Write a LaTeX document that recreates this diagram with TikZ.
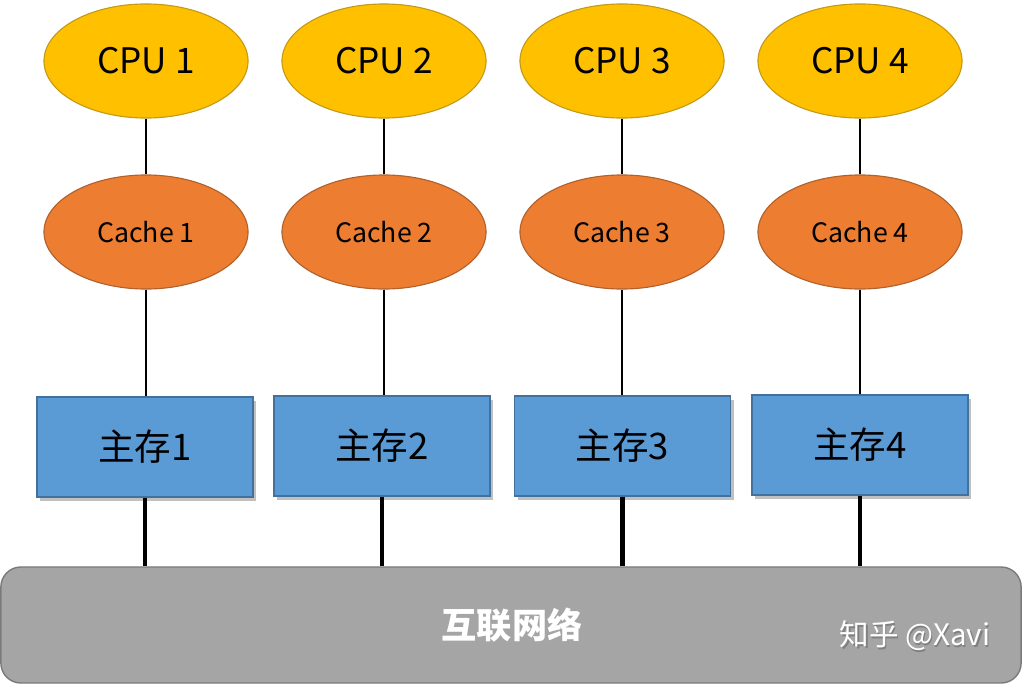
\documentclass[tikz,border=0pt]{standalone}
\usepackage{fontspec}
\setmainfont{Noto Sans CJK SC}
\usetikzlibrary{shapes.geometric,shadows}
\definecolor{cpufill}{HTML}{FFC000}
\definecolor{cpuedge}{HTML}{C49A16}
\definecolor{cachefill}{HTML}{ED7D31}
\definecolor{cacheedge}{HTML}{B0612C}
\definecolor{memfill}{HTML}{5B9BD5}
\definecolor{memedge}{HTML}{41719C}
\definecolor{busfill}{HTML}{A5A5A5}
\definecolor{busedge}{HTML}{7A7A7A}
\tikzset{
  cpu/.style={ellipse, draw=cpuedge, fill=cpufill, line width=0.8pt, minimum width=5.1cm, minimum height=2.85cm, font=\fontsize{25}{30}\selectfont},
  cache/.style={ellipse, draw=cacheedge, fill=cachefill, line width=0.8pt, minimum width=5.1cm, minimum height=2.85cm, font=\fontsize{19}{23}\selectfont},
  mem/.style={rectangle, draw=memedge, fill=memfill, line width=0.8pt, minimum width=5.4cm, minimum height=2.5cm, font=\fontsize{26}{30}\selectfont,
    drop shadow={shadow xshift=0.08cm, shadow yshift=-0.09cm, opacity=0.45, fill=black!55}},
  bus/.style={rectangle, rounded corners=0.5cm, draw=busedge, fill=busfill, line width=1pt, minimum width=25.5cm, minimum height=2.9cm},
  thinlink/.style={line width=1pt, black},
  midlink/.style={line width=1.5pt, black},
  thicklink/.style={line width=3pt, black},
}

\begin{document}
\begin{tikzpicture}[x=0.025cm, y=-0.025cm]
\useasboundingbox (0,0) rectangle (1023,684);
\node[bus] (bus) at (511,625) {};
\node[font=\bfseries\fontsize{25}{30}\selectfont, text=white] (busname) at (512,625) {互联网络};
\node[font=\fontsize{21}{25}\selectfont, text=black!50] (markshadow) at (916.5,637.5) {知乎 @Xavi};
\node[font=\fontsize{21}{25}\selectfont, text=white] (mark) at (915,636) {知乎 @Xavi};
\foreach \i/\x/\mx/\my in {1/146/145/447, 2/384/382/446, 3/622/622.5/446, 4/860/860/445} {
  \node[cpu] (cpu\i) at (\x,61) {CPU \i};
  \node[cache] (cache\i) at (\x,232) {Cache \i};
  \node[mem] (mem\i) at (\mx,\my) {主存\i};
  \draw[thinlink] (cpu\i) -- (cache\i);
  \draw[midlink] (cache\i.south) -- (cache\i.south |- mem\i.north);
  \draw[thicklink] (mem\i.south) -- (mem\i.south |- bus.north);
}
\end{tikzpicture}
\end{document}
